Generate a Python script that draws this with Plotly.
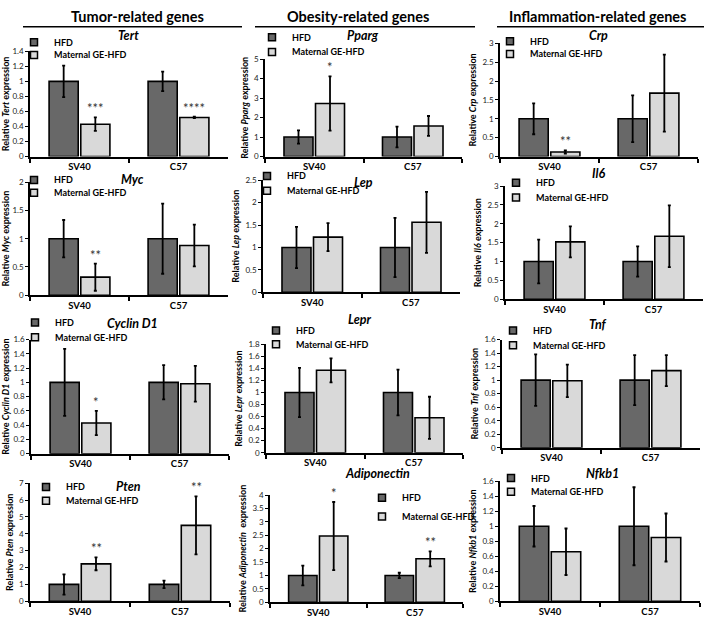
import plotly.graph_objects as go

W, H = 706, 623

groups = ["SV40", "C57"]
genes = ["Tert", "Pparg", "Crp",
         "Myc", "Lep", "Il6",
         "Cyclin D1", "Lepr", "Tnf",
         "Pten", "Adiponectin", "Nfkb1"]

hfd_mean = [[1.0, 1.0], [1.0, 1.0], [1.0, 1.0],
            [1.0, 1.0], [1.0, 1.0], [1.0, 1.0],
            [1.0, 1.0], [1.0, 1.0], [1.0, 1.0],
            [1.0, 1.0], [1.0, 1.0], [1.0, 1.0]]
hfd_err = [[0.21, 0.13], [0.34, 0.53], [0.41, 0.62],
           [0.33, 0.62], [0.46, 0.66], [0.58, 0.40],
           [0.47, 0.24], [0.41, 0.38], [0.38, 0.37],
           [0.60, 0.22], [0.37, 0.10], [0.27, 0.52]]
mat_mean = [[0.43, 0.52], [2.72, 1.57], [0.12, 1.68],
            [0.32, 0.88], [1.23, 1.56], [1.52, 1.67],
            [0.43, 0.98], [1.37, 0.58], [0.99, 1.14],
            [2.22, 4.50], [2.47, 1.62], [0.66, 0.85]]
mat_err = [[0.09, 0.01], [1.39, 0.51], [0.04, 1.02],
           [0.24, 0.37], [0.31, 0.68], [0.41, 0.82],
           [0.17, 0.25], [0.20, 0.35], [0.24, 0.23],
           [0.38, 1.72], [1.27, 0.28], [0.31, 0.32]]
stars = [["***", "****"], ["*", ""], ["**", ""],
         ["**", ""], ["", ""], ["", ""],
         ["*", ""], ["", ""], ["", ""],
         ["**", "**"], ["*", "**"], ["", ""]]
y_max = [1.4, 5, 3, 2, 2.5, 3, 1.6, 1.8, 1.6, 7, 4, 1.6]
y_dtick = [0.2, 1, 0.5, 0.5, 0.5, 0.5, 0.2, 0.2, 0.2, 1, 0.5, 0.2]
series = ["HFD", "Maternal GE-HFD"]

headers = ["Tumor-related genes", "Obesity-related genes", "Inflammation-related genes"]

# panel boxes in pixels: x0, x1, ytop, ybottom
boxes = [(30, 228, 47, 154), (265, 462, 55, 154), (500, 698, 39, 154),
         (30, 228, 180, 295), (263, 460, 178, 292), (505, 703, 184, 299),
         (31, 229, 340, 456), (266, 463, 345, 455), (502, 700, 340, 450),
         (30, 230, 486, 606), (270, 463, 498, 607), (500, 700, 484, 606)]
# gene title position (center x, y) in pixels
title_pos = [(128, 31), (363, 31), (598, 31),
             (132, 177), (363, 180), (598, 171),
             (132, 324), (360, 320), (598, 325),
             (128, 489), (377, 476), (602, 476)]
# legend swatch centre x, item centre y (HFD, Maternal) in pixels
legend_pos = [(37, 40, 53), (275, 35, 50), (513, 39, 52),
              (37, 180, 193), (270, 176, 191), (519, 183, 198),
              (38, 325, 340), (279, 333, 347), (516, 333, 348),
              (49, 492, 506), (385, 503, 522), (514, 483, 497)]
header_pos = [137, 358, 597]
header_lines = [(23, 242), (255, 475), (497, 704)]

FONT = "Lato, 'Open Sans', Arial, sans-serif"
COLORS = ["#686868", "#d9d9d9"]
BARGAP = 0.36
GROUPGAP = 0.08

fig = go.Figure()
annotations = []
shapes = []

for i, g in enumerate(genes):
    sfx = "" if i == 0 else str(i + 1)
    x0, x1, yt, yb = boxes[i]
    ax = dict(xaxis="x" + sfx, yaxis="y" + sfx)
    means = [hfd_mean[i], mat_mean[i]]
    errs = [hfd_err[i], mat_err[i]]
    lx, ly1, ly2 = legend_pos[i]
    for s in range(2):
        fig.add_trace(go.Bar(
            x=groups, y=means[s], name=series[s], showlegend=False,
            marker=dict(color=COLORS[s], line=dict(color="black", width=1.6)),
            error_y=dict(type="data", array=errs[s], color="black", thickness=1.8, width=1.5),
            **ax,
        ))
        # one legend per entry so the entries can sit as close as in the original
        k = 2 * i + s + 1
        lg = "legend" if k == 1 else "legend%d" % k
        fig.add_trace(go.Scatter(
            x=[None], y=[None], mode="markers", name="<b>%s</b>" % series[s], legend=lg,
            marker=dict(symbol="square", size=7, color=COLORS[s], line=dict(color="black", width=1.5)),
            **ax,
        ))
        cy = ly1 if s == 0 else ly2
        fig.layout[lg] = dict(
            x=(lx - 23) / W, y=1 - (cy - 17) / H, xanchor="left", yanchor="top",
            xref="paper", yref="paper",
            bgcolor="rgba(0,0,0,0)", borderwidth=0,
            font=dict(family=FONT, size=9, color="black"),
            itemwidth=30,
        )

    fig.layout["xaxis" + sfx] = dict(
        domain=[x0 / W, x1 / W], anchor="y" + sfx,
        showline=True, linecolor="black", linewidth=2,
        ticks="outside", tickson="boundaries", ticklen=4, tickcolor="black", tickwidth=1.5,
        tickfont=dict(family=FONT, size=9.5, color="black", weight="bold"),
        showgrid=False, zeroline=False, fixedrange=True,
    )
    fig.layout["yaxis" + sfx] = dict(
        domain=[1 - yb / H, 1 - yt / H], anchor="x" + sfx,
        range=[0, y_max[i]], dtick=y_dtick[i], tick0=0,
        showline=True, linecolor="black", linewidth=1.5,
        ticks="outside", ticklen=3, tickcolor="black", tickwidth=1,
        tickfont=dict(family=FONT, size=8, color="#222"),
        showgrid=False, zeroline=False, fixedrange=True,
        title=dict(
            text="<b>Relative <i>%s</i> expression</b>" % g if g != "Adiponectin"
            else "<b>Relative <i>%s</i>  expression</b>" % g,
            font=dict(family=FONT, size=9, color="black"), standoff=4,
        ),
    )

    tx, ty = title_pos[i]
    annotations.append(dict(
        x=tx / W, y=1 - ty / H, xref="paper", yref="paper",
        text="<b><i>%s</i></b>" % g, showarrow=False,
        font=dict(family=FONT, size=12.5, color="black"),
        xanchor="center", yanchor="middle",
    ))

    # significance stars above the maternal bars
    cat_px = (x1 - x0) / 2
    shift = cat_px * (1 - BARGAP) / 4
    for j, st in enumerate(stars[i]):
        if st:
            annotations.append(dict(
                x=groups[j], y=mat_mean[i][j] + mat_err[i][j],
                xref="x" + sfx, yref="y" + sfx, xshift=shift, yshift=-1,
                text=st, showarrow=False, yanchor="bottom",
                font=dict(family=FONT, size=13, color="#333"),
            ))

for k, h in enumerate(headers):
    annotations.append(dict(
        x=header_pos[k] / W, y=1 - 12 / H, xref="paper", yref="paper",
        text="<b>%s</b>" % h, showarrow=False,
        font=dict(family=FONT, size=14.5, color="black"),
        xanchor="center", yanchor="middle",
    ))
    a, b = header_lines[k]
    shapes.append(dict(type="line", xref="paper", yref="paper",
                       x0=a / W, x1=b / W, y0=1 - 22 / H, y1=1 - 22 / H,
                       line=dict(color="black", width=1.5)))

fig.update_layout(
    width=W, height=H,
    margin=dict(l=0, r=0, t=0, b=0),
    barmode="group", bargap=BARGAP, bargroupgap=GROUPGAP,
    plot_bgcolor="white", paper_bgcolor="white",
    font=dict(family=FONT),
    annotations=annotations, shapes=shapes,
)

fig.write_html(
    "out.html",
    config={"displayModeBar": False},
    post_script=(
        "document.body.style.margin='0';document.body.style.overflow='hidden';"
        "var d=document.getElementById('{plot_id}');"
        "d.style.position='absolute';d.style.left='0px';d.style.top='0px';"
    ),
)
